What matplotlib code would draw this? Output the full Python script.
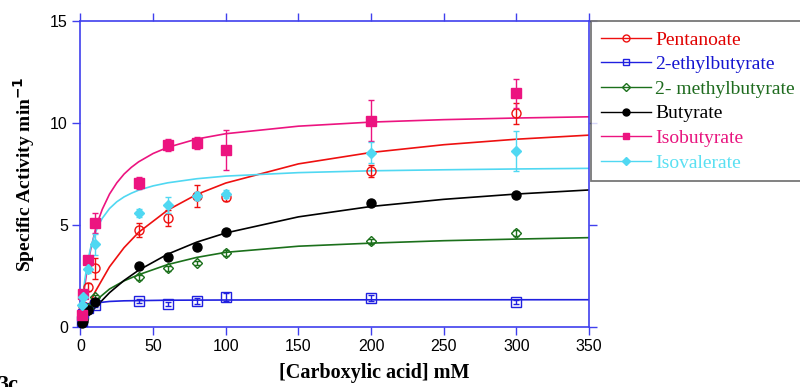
import matplotlib
matplotlib.use("Agg")
import matplotlib.pyplot as plt
from matplotlib.lines import Line2D

# ---------------- data ----------------
series_names = ["Pentanoate", "2-ethylbutyrate", "2- methylbutyrate",
                "Butyrate", "Isobutyrate", "Isovalerate"]

# measured points
pent_x = [2, 5, 10, 40, 60, 80, 100, 200, 300]
pent_y = [1.0, 1.96, 2.86, 4.75, 5.35, 6.4, 6.38, 7.64, 10.47]
pent_e = [0.1, 0.2, 0.5, 0.35, 0.4, 0.55, 0.2, 0.3, 0.5]

ethb_x = [1, 2, 5, 10, 40, 60, 80, 100, 200, 300]
ethb_y = [0.3, 0.6, 0.9, 1.06, 1.26, 1.1, 1.28, 1.47, 1.39, 1.23]
ethb_e = [0.05, 0.05, 0.08, 0.1, 0.1, 0.1, 0.15, 0.2, 0.15, 0.1]

metb_x = [2, 5, 10, 40, 60, 80, 100, 200, 300]
metb_y = [0.4, 0.9, 1.45, 2.42, 2.86, 3.14, 3.6, 4.2, 4.58]
metb_e = [0.05, 0.08, 0.1, 0.12, 0.12, 0.1, 0.15, 0.12, 0.15]

buty_x = [1, 2, 5, 10, 40, 60, 80, 100, 200, 300]
buty_y = [0.17, 0.3, 0.8, 1.2, 3.0, 3.44, 3.93, 4.66, 6.05, 6.46]
buty_e = [0.05, 0.05, 0.08, 0.1, 0.1, 0.12, 0.12, 0.1, 0.1, 0.1]

isob_x = [1, 2, 5, 10, 40, 60, 80, 100, 200, 300]
isob_y = [0.55, 1.6, 3.27, 5.1, 7.07, 8.9, 9.03, 8.67, 10.1, 11.45]
isob_e = [0.1, 0.1, 0.2, 0.5, 0.3, 0.3, 0.3, 1.0, 1.0, 0.7]

isov_x = [1, 2, 5, 10, 40, 60, 80, 100, 200, 300]
isov_y = [1.05, 1.45, 2.83, 4.04, 5.56, 5.97, 6.43, 6.51, 8.54, 8.62]
isov_e = [0.1, 0.1, 0.2, 0.5, 0.2, 0.4, 0.2, 0.2, 0.5, 1.0]

# fitted curves
fit_x_coarse = [0, 1, 2, 5, 10, 20, 30, 40, 60, 80, 100, 150, 200, 250, 300, 350]
pent_fit = [0, 0.2, 0.39, 0.92, 1.70, 2.94, 3.88, 4.63, 5.72, 6.49, 7.05, 7.99, 8.55, 8.93, 9.20, 9.40]
ethb_fit = [0, 0.53, 0.76, 1.02, 1.16, 1.24, 1.27, 1.28, 1.30, 1.305, 1.31, 1.317, 1.32, 1.322, 1.323, 1.324]
metb_fit = [0, 0.15, 0.3, 0.72, 1.25, 1.85, 2.25, 2.55, 3.05, 3.4, 3.65, 3.95, 4.1, 4.22, 4.3, 4.37]
buty_fit = [0, 0.10, 0.20, 0.49, 0.93, 1.67, 2.27, 2.77, 3.56, 4.15, 4.60, 5.39, 5.90, 6.25, 6.51, 6.71]

fit_x_fine = [0, 1, 2, 3, 5, 7, 10, 12, 15, 20, 25, 30, 35, 40, 50, 60, 80, 100,
              150, 200, 250, 300, 350]
isob_fit = [0, 0.77, 1.44, 2.03, 3.0, 3.78, 4.68, 5.17, 5.76, 6.51, 7.06, 7.49, 7.82,
            8.09, 8.50, 8.80, 9.21, 9.47, 9.84, 10.04, 10.16, 10.24, 10.30]
isov_fit = [0, 0.95, 1.69, 2.30, 3.21, 3.87, 4.57, 4.92, 5.32, 5.80, 6.13, 6.37, 6.55,
            6.70, 6.91, 7.06, 7.26, 7.39, 7.56, 7.65, 7.70, 7.74, 7.77]

x_ticks = [0, 50, 100, 150, 200, 250, 300, 350]
y_ticks = [0, 5, 10, 15]

# ---------------- styling ----------------
AX_BLUE = "#4040EE"
colors = ["#EE1010", "#2020E0", "#1B701B", "#000000", "#EC1480", "#50D8F2"]
text_colors = ["#E00000", "#1515D0", "#1E6B1E", "#000000", "#E8157F", "#5AE0F2"]

fig = plt.figure(figsize=(8.0, 3.87), dpi=100)
ax = fig.add_axes([0.1006, 0.1558, 0.6357, 0.7899])

pts = [
    (pent_x, pent_y, pent_e, pent_fit, fit_x_coarse, "o", "none"),
    (ethb_x, ethb_y, ethb_e, ethb_fit, fit_x_coarse, "s", "none"),
    (metb_x, metb_y, metb_e, metb_fit, fit_x_coarse, "D", "none"),
    (buty_x, buty_y, buty_e, buty_fit, fit_x_coarse, "o", "full"),
    (isob_x, isob_y, isob_e, isob_fit, fit_x_fine, "s", "full"),
    (isov_x, isov_y, isov_e, isov_fit, fit_x_fine, "D", "full"),
]

handles = []
for i, (xs, ys, es, fy, fx, mk, fill) in enumerate(pts):
    c = colors[i]
    ax.plot(fx, fy, color=c, lw=1.2, zorder=2, clip_on=True)
    ms = 6.5 if mk != "D" else 5.5
    ax.errorbar(xs, ys, yerr=es, fmt=mk, ms=ms,
                mfc=(c if fill == "full" else "none"), mec=c, mew=1.0,
                ecolor=c, elinewidth=1.0, capsize=2.5, capthick=1.0,
                zorder=(4 if fill == "full" else 3), clip_on=False)
    handles.append(Line2D([0], [0], color=c, lw=1.0, marker=mk,
                          ms=5 if mk != "D" else 4.2,
                          mfc=(c if fill == "full" else "none"), mec=c, mew=1.0))

ax.set_xlim(0, 350)
ax.set_ylim(0, 15)
ax.set_xticks(x_ticks)
ax.set_yticks(y_ticks)
for s in ax.spines.values():
    s.set_color(AX_BLUE)
    s.set_linewidth(1.2)
ax.tick_params(direction="out", top=True, right=True, length=5.5, width=1.0,
               color=AX_BLUE, labelsize=11.5, pad=3.5)
for lab in ax.get_xticklabels() + ax.get_yticklabels():
    lab.set_fontfamily("Liberation Sans")

ax.set_ylabel("Specific Activity min$^{\\mathbf{-1}}$", fontfamily="Liberation Serif",
              fontweight="bold", fontsize=14)
ax.yaxis.set_label_coords(-0.085, 0.5)
fig.text(0.4675, 0.036, "[Carboxylic acid] mM", fontfamily="Liberation Serif",
         fontweight="bold", fontsize=14.5, ha="center", va="center")
fig.text(-0.004, -0.008, "3c", fontfamily="Liberation Serif", fontweight="bold",
         fontsize=16, ha="left", va="baseline")

leg = fig.legend(handles, series_names, loc="upper left",
                 bbox_to_anchor=(0.739, 0.945), bbox_transform=fig.transFigure,
                 prop={"family": "Liberation Serif", "size": 14},
                 frameon=True, fancybox=False, edgecolor="#555555",
                 handlelength=2.55, handletextpad=0.25, labelspacing=0.36,
                 borderpad=0.5, borderaxespad=0.0)
leg.get_frame().set_linewidth(1.3)
for t, c in zip(leg.get_texts(), text_colors):
    t.set_color(c)

fig.savefig("out.png", dpi=100)
